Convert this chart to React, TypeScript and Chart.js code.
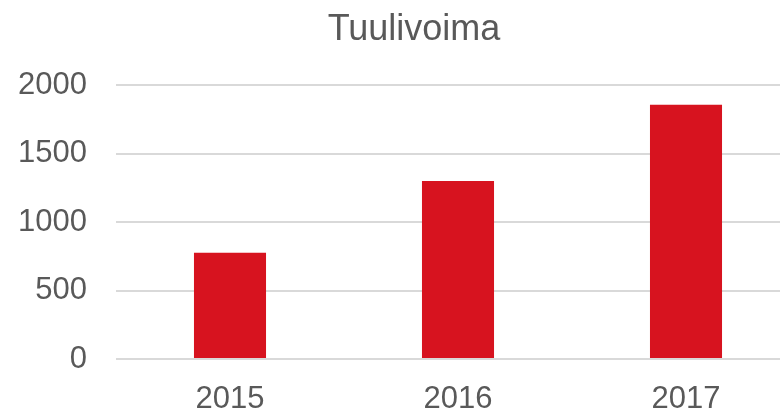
import React, { useEffect, useRef } from "react";
import { Chart, registerables } from "chart.js";

Chart.register(...registerables);

const categories = ["2015", "2016", "2017"];
const values = [775, 1300, 1855];
const titleText = "Tuulivoima";
const yMax = 2000;
const yStep = 500;

const FONT = "'Liberation Sans', Arial, sans-serif";

const titlePlugin = {
  id: "offsetTitle",
  afterDraw(chart: any) {
    const ctx = chart.ctx;
    ctx.save();
    ctx.fillStyle = "#595959";
    ctx.font = `normal 36px ${FONT}`;
    ctx.textAlign = "center";
    ctx.textBaseline = "middle";
    ctx.fillText(titleText, 414, 30);
    ctx.restore();
  },
};

export default function App() {
  const ref = useRef<HTMLCanvasElement | null>(null);
  useEffect(() => {
    if (!ref.current) return;
    const chart = new Chart(ref.current, {
      type: "bar",
      data: {
        labels: categories,
        datasets: [
          {
            data: values,
            backgroundColor: "#d7131f",
            categoryPercentage: 1,
            barPercentage: 0.316,
          },
        ],
      },
      options: {
        responsive: false,
        animation: false,
        layout: { padding: { left: 0, right: 0, top: 85, bottom: 0 } },
        plugins: {
          legend: { display: false },
          tooltip: { enabled: false },
          title: { display: false },
        },
        scales: {
          x: {
            grid: { display: false, drawTicks: false },
            border: { display: false },
            ticks: {
              color: "#595959",
              font: { family: FONT, size: 31 },
              padding: 22,
            },
            afterFit: (s: any) => {
              s.height = 56;
            },
          },
          y: {
            min: 0,
            max: yMax,
            ticks: {
              stepSize: yStep,
              color: "#595959",
              font: { family: FONT, size: 31 },
              padding: 29,
              callback: (v: any) => String(v),
            },
            grid: { color: "#d9d9d9", lineWidth: 2, drawTicks: false },
            border: { display: false },
            afterFit: (s: any) => {
              s.width = 116;
            },
          },
        },
      },
      plugins: [titlePlugin],
    });
    return () => chart.destroy();
  }, []);
  return (
    <div style={{ position: "fixed", left: 0, top: 0, width: 780, height: 415, overflow: "hidden", background: "#fff" }}>
      <canvas ref={ref} width={800} height={415} style={{ display: "block", width: 800, height: 415 }} />
    </div>
  );
}
